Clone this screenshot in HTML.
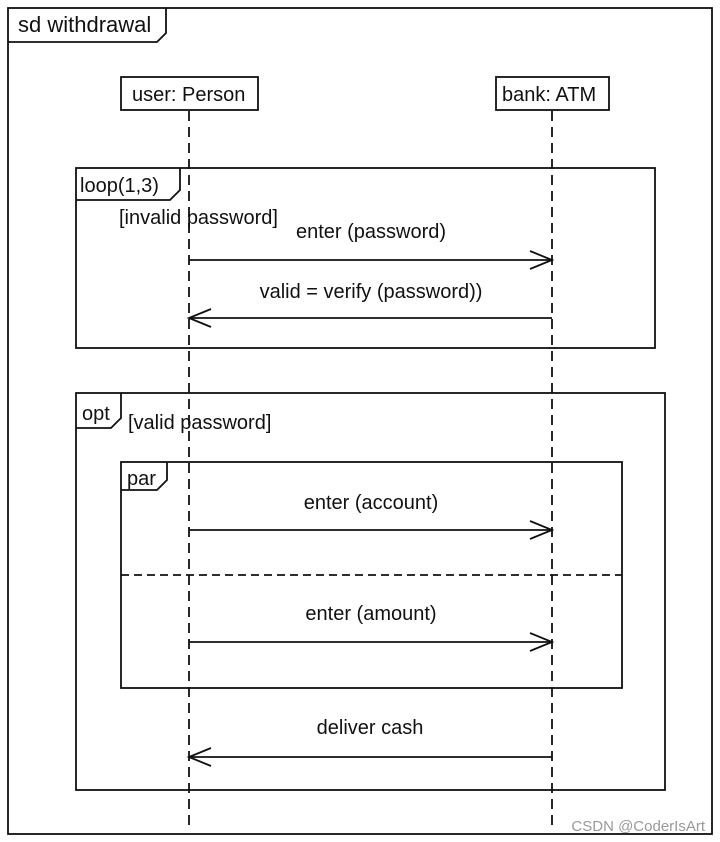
<!DOCTYPE html>
<html><head><meta charset="utf-8"><style>
html,body{margin:0;padding:0;background:#fff;}
svg{display:block;}
text{font-family:"Liberation Sans",Arial,sans-serif;font-size:20px;fill:#111;}
</style></head><body>
<svg width="720" height="842" viewBox="0 0 720 842" xmlns="http://www.w3.org/2000/svg">
<g fill="none" stroke="#111" stroke-width="1.8">
<rect x="8" y="8" width="704" height="826"/>
<polyline points="8,42 157,42 166,33 166,8"/>
<rect x="121" y="77" width="137" height="33" fill="#fff"/>
<rect x="496" y="77" width="113" height="33" fill="#fff"/>
<rect x="76" y="168" width="579" height="180"/>
<polyline points="76,200 170,200 180,190 180,168"/>
<rect x="76" y="393" width="589" height="397"/>
<polyline points="76,428 111,428 121,418 121,393"/>
<rect x="121" y="462" width="501" height="226"/>
<polyline points="121,490 157,490 167,480 167,462"/>
<line x1="121" y1="575" x2="622" y2="575" stroke-dasharray="8,5"/>
<line x1="189" y1="111" x2="189" y2="826" stroke-dasharray="10,6"/>
<line x1="552" y1="111" x2="552" y2="826" stroke-dasharray="10,6"/>
<line x1="189" y1="260" x2="552" y2="260"/><polyline points="530,251 552,260 530,269"/>
<line x1="552" y1="318" x2="189" y2="318"/><polyline points="211,309 189,318 211,327"/>
<line x1="189" y1="530" x2="552" y2="530"/><polyline points="530,521 552,530 530,539"/>
<line x1="189" y1="642" x2="552" y2="642"/><polyline points="530,633 552,642 530,651"/>
<line x1="552" y1="757" x2="189" y2="757"/><polyline points="211,748 189,757 211,766"/>
</g>
<text x="18" y="32" style="font-size:22px">sd withdrawal</text>
<text x="132" y="101">user: Person</text>
<text x="502" y="101">bank: ATM</text>
<text x="80" y="192">loop(1,3)</text>
<text x="119" y="224">[invalid password]</text>
<text x="371" y="238" text-anchor="middle">enter (password)</text>
<text x="371" y="298" text-anchor="middle">valid = verify (password))</text>
<text x="82" y="420">opt</text>
<text x="128" y="429">[valid password]</text>
<text x="127" y="485">par</text>
<text x="371" y="509" text-anchor="middle">enter (account)</text>
<text x="371" y="620" text-anchor="middle">enter (amount)</text>
<text x="370" y="734" text-anchor="middle">deliver cash</text>
<text x="705" y="831" text-anchor="end" style="font-size:15px;fill:#999">CSDN @CoderIsArt</text>
</svg>
</body></html>
